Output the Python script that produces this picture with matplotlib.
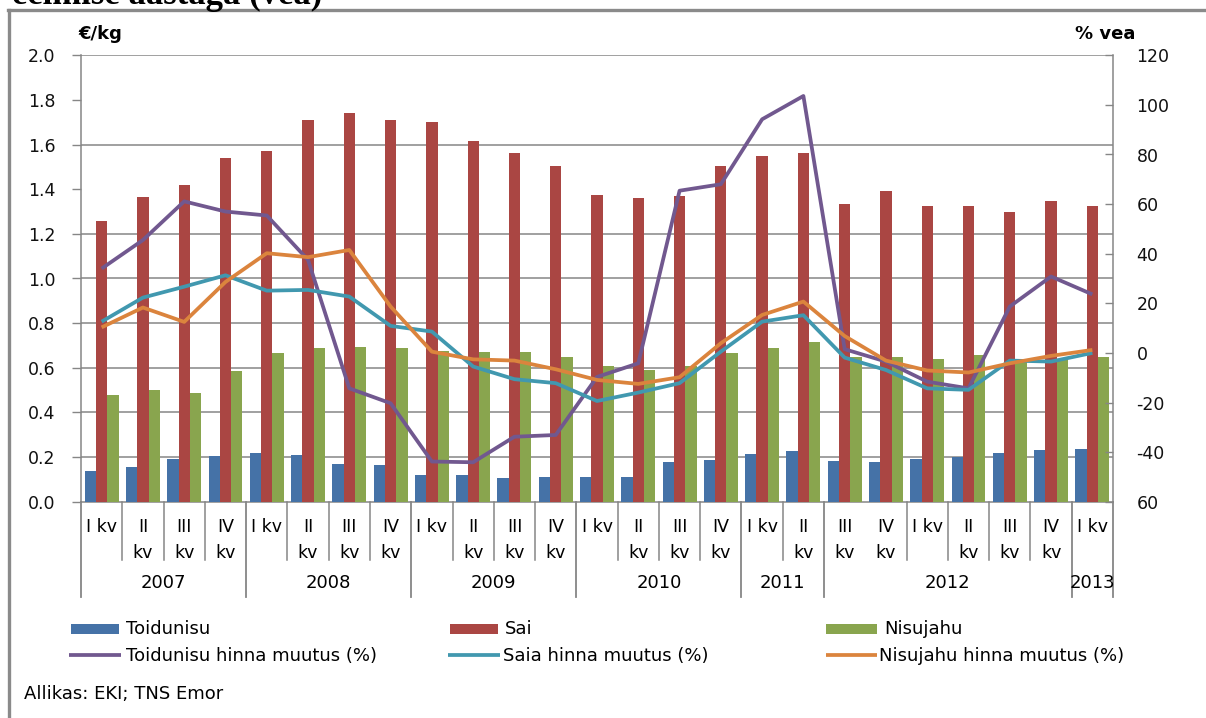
import matplotlib
matplotlib.use("Agg")
import matplotlib.pyplot as plt
import matplotlib.transforms as mtransforms
from matplotlib.patches import Rectangle
from matplotlib.lines import Line2D
import numpy as np

# ---------------- data ----------------
quarters = ["I kv", "II kv", "III kv", "IV kv"] * 6 + ["I kv"]
years = ["2007", "2008", "2009", "2010", "2011", "2012", "2013"]
year_spans = [4, 4, 4, 4, 2, 6, 1]

toidunisu = [0.137, 0.155, 0.191, 0.204, 0.218, 0.209, 0.169, 0.164, 0.119, 0.119,
             0.106, 0.110, 0.110, 0.110, 0.177, 0.186, 0.213, 0.227, 0.182, 0.177,
             0.191, 0.200, 0.218, 0.231, 0.236]
sai = [1.256, 1.363, 1.417, 1.538, 1.569, 1.712, 1.743, 1.712, 1.703, 1.614,
       1.564, 1.506, 1.372, 1.359, 1.368, 1.506, 1.547, 1.564, 1.336, 1.394,
       1.323, 1.323, 1.296, 1.345, 1.323]
nisujahu = [0.477, 0.500, 0.486, 0.585, 0.665, 0.688, 0.692, 0.688, 0.674, 0.670,
            0.670, 0.647, 0.607, 0.589, 0.607, 0.665, 0.688, 0.714, 0.647, 0.647,
            0.638, 0.656, 0.634, 0.634, 0.647]
toidunisu_pct = [34.0, 45.5, 61.1, 57.0, 55.4, 37.5, -14.3, -20.3, -43.8, -44.1,
                 -33.8, -33.1, -9.7, -4.2, 65.4, 68.0, 94.2, 103.6, 1.5, -3.5,
                 -11.6, -14.3, 18.7, 30.8, 23.6]
saia_pct = [12.6, 22.3, 26.7, 31.3, 25.1, 25.4, 22.7, 10.9, 8.6, -5.5,
            -10.6, -12.2, -19.4, -16.0, -12.2, 0.5, 12.6, 15.2, -1.9, -6.9,
            -14.3, -14.9, -3.1, -3.5, 0.0]
nisujahu_pct = [10.3, 18.3, 12.5, 28.6, 40.2, 38.6, 41.5, 18.7, 0.5, -2.6,
                -3.1, -6.6, -10.9, -12.5, -9.8, 3.9, 15.3, 20.7, 6.8, -3.1,
                -7.1, -7.9, -4.2, -1.2, 1.2]

bar_names = ["Toidunisu", "Sai", "Nisujahu"]
line_names = ["Toidunisu hinna muutus (%)", "Saia hinna muutus (%)", "Nisujahu hinna muutus (%)"]
left_ticks = [0.0, 0.2, 0.4, 0.6, 0.8, 1.0, 1.2, 1.4, 1.6, 1.8, 2.0]
right_ticks = [-60, -40, -20, 0, 20, 40, 60, 80, 100, 120]
right_tick_labels = ["60", "-40", "-20", "0", "20", "40", "60", "80", "100", "120"]
grid_levels = [0.2, 0.4, 0.6, 0.8, 1.0, 1.2, 1.6, 2.0]

# ---------------- style ----------------
c_blue, c_red, c_green = "#4572A7", "#AA4643", "#89A54E"
c_purple, c_teal, c_orange = "#71588F", "#4198AF", "#DB843D"
gray = "#868686"
FONT = "DejaVu Sans"
plt.rcParams["font.family"] = [FONT]

W, H = 1206, 718
fig = plt.figure(figsize=(W / 100, H / 100), dpi=100)


def fx(px):
    return px / W


def fy(py):
    return 1 - py / H


L, R, T, B = 81, 1113, 55.3, 501.7
ax = fig.add_axes([fx(L), fy(B), (R - L) / W, (B - T) / H])
ax2 = ax.twinx()
ax.set_zorder(1)
ax2.set_zorder(2)
ax.patch.set_visible(False)
ax2.patch.set_visible(False)

x = np.arange(len(quarters))
w = 0.274
ax.bar(x - w, toidunisu, w, color=c_blue, zorder=3, linewidth=0)
ax.bar(x, sai, w, color=c_red, zorder=3, linewidth=0)
ax.bar(x + w, nisujahu, w, color=c_green, zorder=3, linewidth=0)
for g in grid_levels:
    ax.axhline(g, color=gray, lw=1.1, zorder=1)

ax.set_xlim(-0.5, len(quarters) - 0.5)
ax.set_ylim(0, 2.0)
ax.set_yticks(left_ticks)
ax.set_yticklabels([f"{v:.1f}" for v in left_ticks])
ax.tick_params(axis="y", direction="out", length=6.5, width=1, color=gray,
               pad=12, labelsize=12.5, labelcolor="#111111")
ax.set_xticks([])
for s in ["top", "right"]:
    ax.spines[s].set_visible(False)
for s in ["left", "bottom"]:
    ax.spines[s].set_color(gray)
    ax.spines[s].set_linewidth(1.1)

lw = 2.7
ax2.plot(x, toidunisu_pct, color=c_purple, lw=lw, solid_joinstyle="round", solid_capstyle="butt")
ax2.plot(x, saia_pct, color=c_teal, lw=lw, solid_joinstyle="round", solid_capstyle="butt")
ax2.plot(x, nisujahu_pct, color=c_orange, lw=lw, solid_joinstyle="round", solid_capstyle="butt")
ax2.set_ylim(-60, 120)
ax2.set_yticks(right_ticks)
ax2.set_yticklabels(right_tick_labels)
ax2.tick_params(axis="y", direction="in", length=6, width=1, color=gray,
                pad=17, labelsize=12.5, labelcolor="#111111")
for s in ["top", "left", "bottom"]:
    ax2.spines[s].set_visible(False)
ax2.spines["right"].set_color(gray)
ax2.spines["right"].set_linewidth(1.1)

# ---------------- category axis ----------------
trans = mtransforms.blended_transform_factory(ax.transData, fig.transFigure)
y_axis_f = fy(B)
year_bounds = np.cumsum([0] + year_spans) - 0.5
for i in range(len(quarters) + 1):
    xb = i - 0.5
    is_year = any(abs(xb - yb) < 1e-6 for yb in year_bounds)
    if not is_year and abs(xb - 18.5) < 1e-6:
        continue
    y_end = fy(597) if is_year else fy(560)
    fig.add_artist(Line2D([xb, xb], [y_axis_f, y_end], transform=trans,
                          color=gray, lw=1.1 if not is_year else 1.3))

for i, q in enumerate(quarters):
    if len(q) <= 4:
        fig.text(i, fy(527), q, transform=trans, ha="center", va="center", fontsize=12.5)
    else:
        a, b = q.split(" ")
        fig.text(i, fy(527), a, transform=trans, ha="center", va="center", fontsize=12.5)
        fig.text(i, fy(553), b, transform=trans, ha="center", va="center", fontsize=12.5)

start = 0
for yr, sp in zip(years, year_spans):
    c = start + (sp - 1) / 2
    fig.text(c, fy(583), yr, transform=trans, ha="center", va="center", fontsize=13)
    start += sp

# ---------------- titles ----------------
fig.text(fx(78), fy(34), "€/kg", ha="left", va="center", fontsize=13, fontweight="bold")
fig.text(fx(1075), fy(34), "% vea", ha="left", va="center", fontsize=13, fontweight="bold")
fig.text(fx(322), fy(4), "eelmise aastaga (vea)", ha="right", va="baseline",
         fontsize=25, fontweight="bold", family=["Liberation Serif"])

# ---------------- legend ----------------
bar_colors = [c_blue, c_red, c_green]
line_colors = [c_purple, c_teal, c_orange]
col_x = [(71, 119, 126), (450, 498, 505), (826, 877, 884)]
for (x0, x1, tx), name, col in zip(col_x, bar_names, bar_colors):
    fig.add_artist(Rectangle((fx(x0), fy(634)), fx(x1 - x0), (634 - 624) / H,
                             transform=fig.transFigure, facecolor=col, edgecolor="none"))
    fig.text(fx(tx), fy(629), name, ha="left", va="center", fontsize=13)
col_x2 = [(69, 121, 126), (448, 500, 503), (826, 877, 879)]
for (x0, x1, tx), name, col in zip(col_x2, line_names, line_colors):
    fig.add_artist(Line2D([fx(x0), fx(x1)], [fy(655), fy(655)], transform=fig.transFigure,
                          color=col, lw=2.7, solid_capstyle="butt"))
    fig.text(fx(tx), fy(656), name, ha="left", va="center", fontsize=13)

fig.text(fx(24), fy(694), "Allikas: EKI; TNS Emor", ha="left", va="center", fontsize=13)

# ---------------- outer frame ----------------
fig.add_artist(Line2D([fx(9), fx(9)], [fy(9.5), 0], transform=fig.transFigure, color="#8a8a8a", lw=2.4))
fig.add_artist(Line2D([fx(8), 1], [fy(10), fy(10)], transform=fig.transFigure, color="#8a8a8a", lw=2.4))

fig.savefig("out.png", dpi=100)
